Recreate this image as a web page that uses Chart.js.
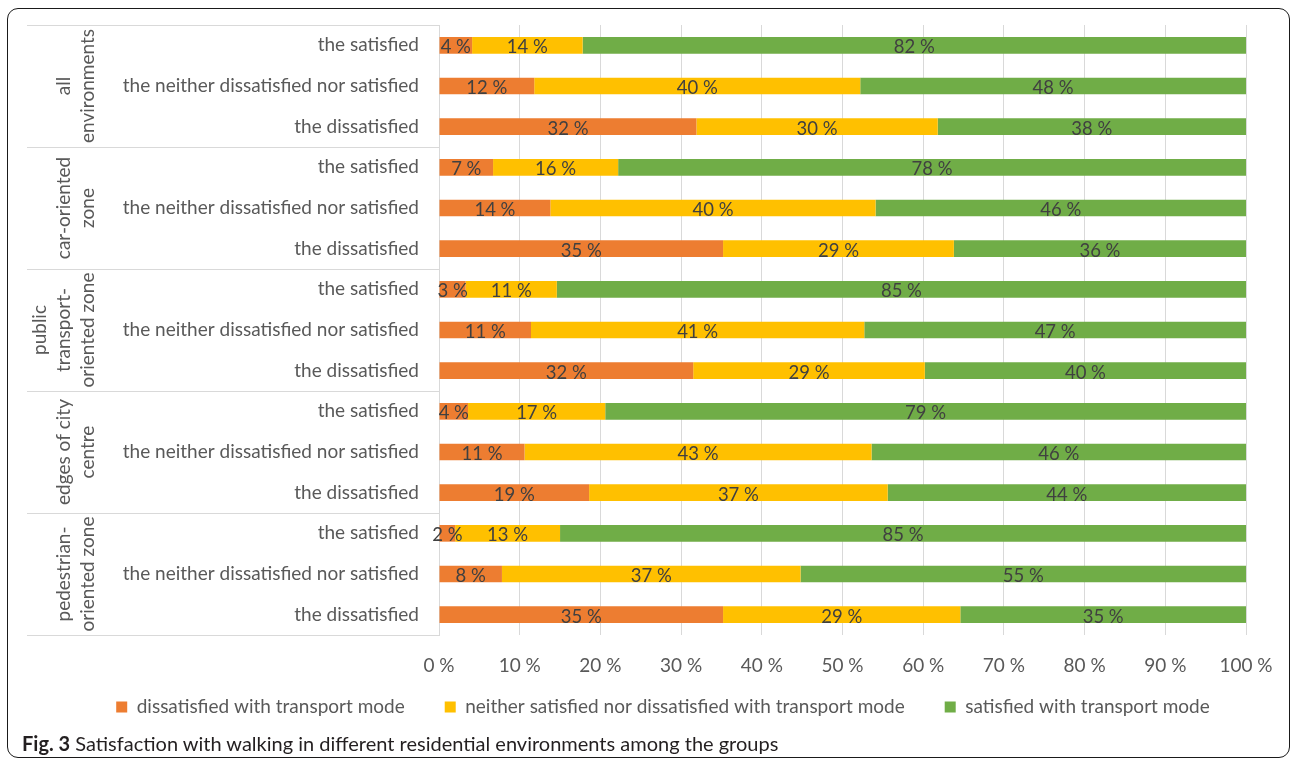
<!DOCTYPE html>
<html>
<head>
<meta charset="utf-8">
<script src="https://cdn.jsdelivr.net/npm/chart.js@4"></script>
<style>
  body { margin: 0; background: #fff; }
  #wrap { position: absolute; left: 0; top: 0; width: 1292px; height: 748px; }
  #frame { position: absolute; left: 7px; top: 8px; width: 1281px; height: 748px;
           border: 1.5px solid #1a1a1a; border-radius: 11px; }
  #caption { position: absolute; left: 22px; top: 731px; font-family: Lato, sans-serif;
             font-size: 20px; color: #231f20; white-space: nowrap; }
</style>
</head>
<body>
<div id="frame"></div>
<div id="wrap"><canvas id="myChart"></canvas></div>
<div id="caption"><b>Fig. 3</b> Satisfaction with walking in different residential environments among the groups</div>
<script>
// categories ------------------------------------------------------------
const groups = [
  ['all', 'environments'],
  ['car-oriented', 'zone'],
  ['public', 'transport-', 'oriented zone'],
  ['edges of city', 'centre'],
  ['pedestrian-', 'oriented zone']
];
const rowLabels = ['the satisfied', 'the neither dissatisfied nor satisfied', 'the dissatisfied'];

const categories = [];
groups.forEach(() => rowLabels.forEach(r => categories.push(r)));

// series values (percent), top to bottom ---------------------------------
const dissatisfied = [4.1, 11.8, 31.9, 6.7, 13.8, 35.2, 3.3, 11.4, 31.5, 3.6, 10.6, 18.6, 2.0, 7.8, 35.2];
const neither      = [13.7, 40.4, 29.9, 15.5, 40.3, 28.6, 11.3, 41.3, 28.7, 17.0, 43.0, 37.0, 13.0, 37.0, 29.4];
const satisfied    = [82.2, 47.8, 38.2, 77.8, 45.9, 36.2, 85.4, 47.3, 39.8, 79.4, 46.4, 44.4, 85.0, 55.2, 35.4];

const seriesNames = [
  'dissatisfied with transport mode',
  'neither satisfied nor dissatisfied with transport mode',
  'satisfied with transport mode'
];

// x ticks
const xTicks = [0, 10, 20, 30, 40, 50, 60, 70, 80, 90, 100];

const FONT = 'Lato, sans-serif';
const GRID = '#d9d9d9';

// data labels inside the segments
const segLabels = {
  id: 'segLabels',
  afterDatasetsDraw(chart) {
    const ctx = chart.ctx;
    ctx.save();
    ctx.font = '18.5px ' + FONT;
    ctx.fillStyle = '#404040';
    ctx.textAlign = 'center';
    ctx.textBaseline = 'middle';
    chart.data.datasets.forEach((ds, i) => {
      chart.getDatasetMeta(i).data.forEach((el, j) => {
        const cx = (el.x + el.base) / 2;
        ctx.fillText(Math.round(ds.data[j]) + ' %', cx, el.y + 2);
      });
    });
    ctx.restore();
  }
};

// multi level category axis: group labels and separators
const groupAxis = {
  id: 'groupAxis',
  afterDraw(chart) {
    const ctx = chart.ctx;
    const y = chart.scales.y;
    const step = y.getPixelForValue(1) - y.getPixelForValue(0);
    const left = 27;
    const right = chart.chartArea.left;
    ctx.save();
    ctx.strokeStyle = GRID;
    ctx.lineWidth = 1;
    for (let g = 0; g <= groups.length; g++) {
      const py = Math.round(y.getPixelForValue(g * 3) - step / 2) + 0.5;
      ctx.beginPath();
      ctx.moveTo(left, py);
      ctx.lineTo(right, py);
      ctx.stroke();
    }
    ctx.font = '19px ' + FONT;
    ctx.fillStyle = '#595959';
    ctx.textAlign = 'center';
    ctx.textBaseline = 'middle';
    groups.forEach((lines, g) => {
      const cy = y.getPixelForValue(g * 3 + 1);
      lines.forEach((t, k) => {
        const cx = 88 - (lines.length - 1 - k) * 24;
        ctx.save();
        ctx.translate(cx, cy);
        ctx.rotate(-Math.PI / 2);
        ctx.fillText(t, 0, 0);
        ctx.restore();
      });
    });
    ctx.restore();
  }
};

// legend sits closer to the axis labels (and a bit more right) than chart.js would put it
const legendMove = {
  id: 'legendMove',
  afterLayout(chart) {
    const lg = chart.legend;
    const d = lg.top - (chart.chartArea.bottom + 22.5);
    lg.top -= d;
    lg.bottom -= d;
    lg.left += 40;
    lg.right += 40;
  }
};

const colors = ['#ED7D31', '#FFC000', '#70AD47'];
const values = [dissatisfied, neither, satisfied];

const datasets = seriesNames.map((name, i) => {
  return {
    label: name,
    data: values[i],
    backgroundColor: colors[i],
    borderWidth: 0,
    barPercentage: 0.41,
    categoryPercentage: 1
  };
});

const ctx = document.getElementById('myChart').getContext('2d');
const myChart = new Chart(ctx, {
  type: 'bar',
  data: {
    labels: categories,
    datasets: datasets
  },
  options: {
    indexAxis: 'y',
    responsive: true,
    maintainAspectRatio: false,
    animation: false,
    layout: { padding: { left: 0, top: 25, right: 46, bottom: 0 } },
    scales: {
      x: {
        stacked: true,
        min: 0,
        max: 100,
        afterBuildTicks(scale) { scale.ticks = xTicks.map(v => ({ value: v })); },
        afterFit(scale) { scale.height = 44; },
        ticks: {
          callback: v => v + ' %',
          font: { family: FONT, size: 19 },
          color: '#595959',
          padding: 19,
          maxRotation: 0
        },
        grid: { color: GRID, drawTicks: false, tickLength: 0 },
        border: { display: false }
      },
      y: {
        stacked: true,
        afterFit(scale) {
          scale.width = 439;
          scale.paddingTop = 0;
          scale.paddingBottom = 0;
        },
        ticks: {
          font: { family: FONT, size: 19 },
          color: '#595959',
          padding: 20,
          autoSkip: false
        },
        grid: { display: false, drawTicks: false, tickLength: 0 },
        border: { display: true, color: GRID }
      }
    },
    plugins: {
      legend: {
        position: 'bottom',
        labels: {
          boxWidth: 11,
          boxHeight: 11,
          font: { family: FONT, size: 19 },
          color: '#595959',
          padding: 40
        }
      },
      tooltip: { enabled: false }
    }
  },
  plugins: [segLabels, groupAxis, legendMove]
});
</script>
</body>
</html>
